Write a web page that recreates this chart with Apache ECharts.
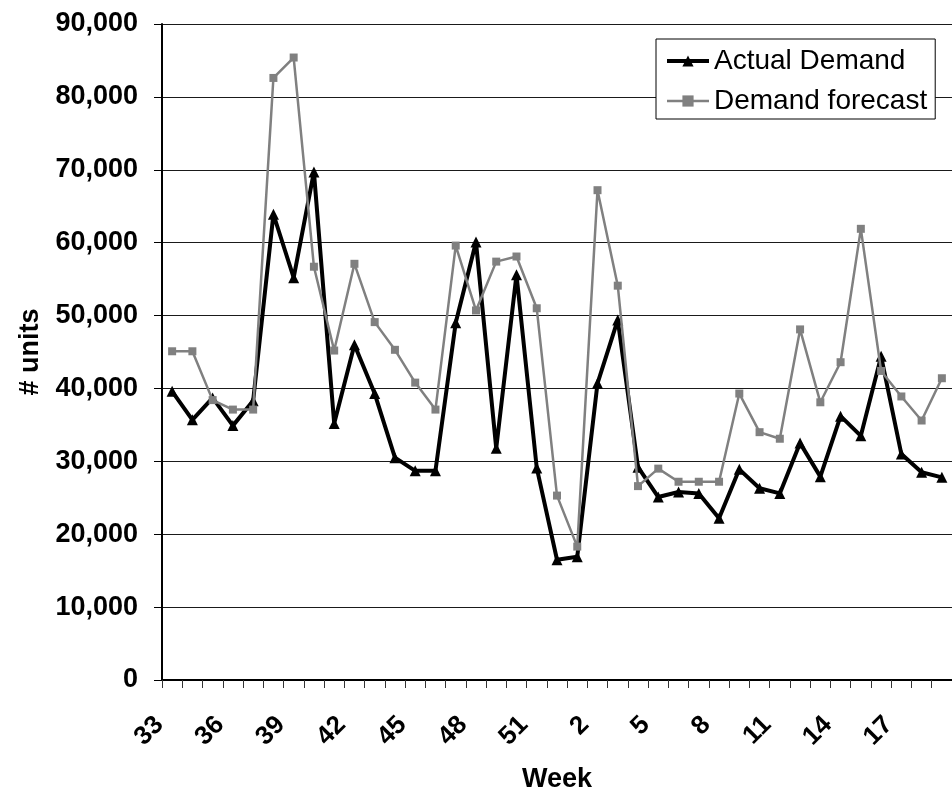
<!DOCTYPE html>
<html>
<head>
<meta charset="utf-8">
<script src="https://cdn.jsdelivr.net/npm/echarts@6/dist/echarts.min.js"></script>
<style>
html,body{margin:0;padding:0;background:#fff;}
#chart{width:952px;height:799px;}
</style>
</head>
<body>
<div id="chart"></div>
<script>
var weeks = ['33','34','35','36','37','38','39','40','41','42','43','44','45','46','47','48','49','50','51','52',
             '1','2','3','4','5','6','7','8','9','10','11','12','13','14','15','16','17','18','19'];
var actualDemand = [39600,35700,38700,34900,38300,63900,55200,69700,35200,46000,
                    39300,30500,28700,28700,49000,60100,31800,55600,29100,16500,
                    16900,40700,49400,29200,25100,25800,25600,22200,28900,26300,
                    25600,32500,27900,36200,33500,44400,31000,28500,27800];
var demandForecast = [45100,45100,38400,37100,37100,82600,85400,56700,45200,57100,
                      49100,45300,40800,37100,59600,50700,57400,58100,51000,25300,
                      18300,67200,54100,26600,29000,27200,27200,27200,39300,34000,
                      33100,48100,38100,43600,61900,42400,38900,35600,41400];
var yMin = 0, yMax = 90000, yStep = 10000;

var FONT = '"Liberation Sans", Arial, sans-serif';
var chart = echarts.init(document.getElementById('chart'), null, {renderer: 'canvas'});
chart.setOption({
  animation: false,
  backgroundColor: '#fff',
  textStyle: {fontFamily: FONT},
  grid: {left: 162, top: 24, bottom: 119, right: -10, containLabel: false},
  legend: {
    left: 656, top: 39,
    orient: 'vertical',
    backgroundColor: '#fff',
    borderColor: '#000', borderWidth: 1,
    padding: [8, 8, 4, 9],
    itemGap: 12,
    itemWidth: 42, itemHeight: 14,
    textStyle: {fontFamily: FONT, fontSize: 28, color: '#000'},
    data: [
      {name: 'Actual Demand', lineStyle: {width: 4, color: '#000'}},
      {name: 'Demand forecast', lineStyle: {width: 2.5, color: '#808080'}}
    ]
  },
  xAxis: {
    type: 'category',
    data: weeks,
    boundaryGap: true,
    name: 'Week',
    nameLocation: 'middle',
    nameGap: 86,
    nameTextStyle: {fontFamily: FONT, fontSize: 27, fontWeight: 'bold', color: '#000'},
    axisLine: {lineStyle: {color: '#000', width: 2}},
    axisTick: {show: true, interval: 0, length: 8, lineStyle: {color: '#333', width: 1}},
    axisLabel: {interval: 2, rotate: 45, margin: 28, padding: [0, 18, 0, 0],
                fontFamily: FONT, fontSize: 26, fontWeight: 'bold', color: '#000'},
    splitLine: {show: false}
  },
  yAxis: {
    type: 'value',
    min: yMin, max: yMax, interval: yStep,
    name: '# units',
    nameLocation: 'middle',
    nameGap: 118,
    nameRotate: 90,
    nameTextStyle: {fontFamily: FONT, fontSize: 27, fontWeight: 'bold', color: '#000'},
    axisLine: {show: true, lineStyle: {color: '#000', width: 2}},
    axisTick: {show: true, length: 8, lineStyle: {color: '#000', width: 1}},
    axisLabel: {margin: 24, fontFamily: FONT, fontSize: 27, fontWeight: 'bold', color: '#000',
                formatter: function (v) { return v.toLocaleString('en-US'); }},
    splitLine: {show: true, lineStyle: {color: '#1a1a1a', width: 1}}
  },
  series: [
    {
      name: 'Actual Demand',
      type: 'line',
      data: actualDemand,
      symbol: 'triangle',
      symbolSize: 11,
      showAllSymbol: true,
      itemStyle: {color: '#000'},
      lineStyle: {color: '#000', width: 4},
      z: 2
    },
    {
      name: 'Demand forecast',
      type: 'line',
      data: demandForecast,
      symbol: 'rect',
      symbolSize: 8,
      showAllSymbol: true,
      itemStyle: {color: '#808080'},
      lineStyle: {color: '#808080', width: 2.5},
      z: 3
    }
  ]
});
</script>
</body>
</html>
